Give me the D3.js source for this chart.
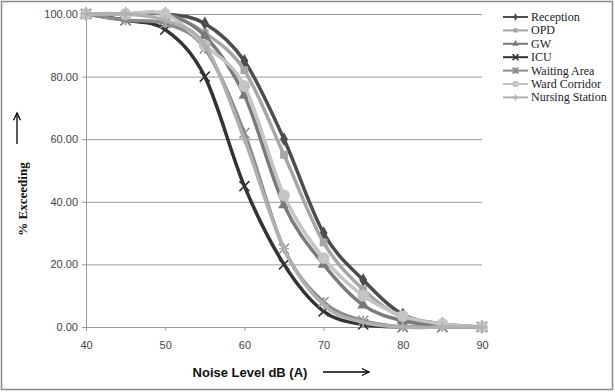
<!DOCTYPE html>
<html>
<head>
<meta charset="utf-8">
<script src="https://cdn.jsdelivr.net/npm/d3@7"></script>
<style>
  body { margin: 0; background: #fff; }
  svg { display: block; }
</style>
</head>
<body>
<div id="chart_container"></div>
<script>
// noise levels, dB (A)
var levels = [40, 45, 50, 55, 60, 65, 70, 75, 80, 85, 90];
var xTicks = [40, 50, 60, 70, 80, 90];
var yTicks = [0, 20, 40, 60, 80, 100];

// % exceeding, one array per location
var reception      = [100, 100, 100, 97, 85, 60, 30, 15, 4, 1, 0];
var opd            = [100, 100, 100, 94, 82, 55, 27, 12, 3, 1, 0];
var gw             = [100, 100, 100, 93, 74, 39, 20, 7, 2, 0.5, 0];
var icu            = [100, 98, 95, 80, 45, 20, 5, 0.8, 0, 0, 0];
var waitingArea    = [100, 98, 97, 89, 62, 25, 8, 2, 0, 0, 0];
var wardCorridor   = [100, 100, 100, 90, 77, 42, 22, 10, 3.5, 1, 0];
var nursingStation = [100, 100, 98, 90, 60, 25, 7, 1.5, 0, 0, 0];

var seriesNames = ["Reception", "OPD", "GW", "ICU", "Waiting Area", "Ward Corridor", "Nursing Station"];
var seriesValues = [reception, opd, gw, icu, waitingArea, wardCorridor, nursingStation];

// look of each series
var styles = [
    { color: "#4d4d4d", marker: "diamond" },
    { color: "#a6a6a6", marker: "square" },
    { color: "#7a7a7a", marker: "triangle" },
    { color: "#333333", marker: "x" },
    { color: "#8c8c8c", marker: "asterisk" },
    { color: "#c4c4c4", marker: "circle" },
    { color: "#b0b0b0", marker: "plus" }
];

var W = 615, H = 392;
var margin = { top: 14, left: 86 },
    width = 396,
    height = 313;

var x = d3.scaleLinear().domain([40, 90]).range([0, width]);
var y = d3.scaleLinear().domain([0, 100]).range([height, 0]);

var svg = d3.select("#chart_container").append("svg")
    .attr("width", W)
    .attr("height", H);

// outer frame
svg.append("rect")
    .attr("x", 1.5).attr("y", 1.5)
    .attr("width", W - 4).attr("height", H - 4)
    .attr("fill", "none")
    .attr("stroke", "#8a8a8a")
    .attr("stroke-width", 1.5);

var g = svg.append("g")
    .attr("transform", "translate(" + margin.left + "," + margin.top + ")");

// horizontal gridlines
g.append("g")
    .attr("class", "grid")
    .call(d3.axisLeft(y).tickValues(yTicks).tickSize(-width).tickFormat(""))
    .call(function(s) {
        s.select(".domain").remove();
        s.selectAll("line").attr("stroke", "#9a9a9a").attr("stroke-width", 1);
    });

// y axis
g.append("g")
    .call(d3.axisLeft(y).tickValues(yTicks).tickSize(4).tickSizeOuter(0).tickFormat(d3.format(".2f")))
    .call(function(s) {
        s.select(".domain").attr("stroke", "#9a9a9a");
        s.selectAll(".tick line").attr("stroke", "#9a9a9a");
        s.selectAll("text")
            .attr("font-family", "Liberation Sans, Arial, sans-serif")
            .attr("font-size", 11)
            .attr("fill", "#444")
            .attr("x", -8);
    });

// x axis
g.append("g")
    .attr("transform", "translate(0," + height + ")")
    .call(d3.axisBottom(x).tickValues(xTicks).tickSize(4).tickSizeOuter(0).tickFormat(d3.format("d")))
    .call(function(s) {
        s.select(".domain").attr("stroke", "#9a9a9a");
        s.selectAll(".tick line").attr("stroke", "#9a9a9a");
        s.selectAll("text")
            .attr("font-family", "Liberation Sans, Arial, sans-serif")
            .attr("font-size", 11)
            .attr("fill", "#444")
            .attr("y", 14);
    });

function markerPath(type, size) {
    var r = size;
    switch (type) {
        case "diamond": return d3.symbol(d3.symbolDiamond, 55)();
        case "square": return d3.symbol(d3.symbolSquare, 60)();
        case "triangle": return d3.symbol(d3.symbolTriangle, 60)();
        case "circle": return d3.symbol(d3.symbolCircle, 110)();
        case "x": return "M" + (-r) + "," + (-r) + "L" + r + "," + r + "M" + (-r) + "," + r + "L" + r + "," + (-r);
        case "plus": return "M" + (-r) + ",0L" + r + ",0M0," + (-r) + "L0," + r;
        case "asterisk": return "M" + (-r) + "," + (-r) + "L" + r + "," + r + "M" + (-r) + "," + r + "L" + r + "," + (-r) + "M0," + (-r) + "L0," + r;
    }
}

function drawMarker(sel, st, size) {
    var filled = ["diamond", "square", "triangle", "circle"].indexOf(st.marker) >= 0;
    sel.attr("d", markerPath(st.marker, size))
        .attr("fill", filled ? st.color : "none")
        .attr("stroke", st.color)
        .attr("stroke-width", filled ? 0 : 1.5);
}

var line = d3.line()
    .x(function(d) { return x(d[0]); })
    .y(function(d) { return y(d[1]); })
    .curve(d3.curveCatmullRom.alpha(0));

// series lines and markers
seriesValues.forEach(function(vals, i) {
    var pts = levels.map(function(l, j) { return [l, vals[j]]; });
    var st = styles[i];
    var sg = g.append("g");
    sg.append("path")
        .datum(pts)
        .attr("d", line)
        .attr("fill", "none")
        .attr("stroke", st.color)
        .attr("stroke-width", 3.5);
    sg.selectAll("path.mk")
        .data(pts)
        .enter().append("path")
        .attr("class", "mk")
        .attr("transform", function(d) { return "translate(" + x(d[0]) + "," + y(d[1]) + ")"; })
        .call(drawMarker, st, 5);
});

// legend
var legend = svg.append("g").attr("transform", "translate(503,17)");
seriesNames.forEach(function(name, i) {
    var row = legend.append("g").attr("transform", "translate(0," + (i * 13.4) + ")");
    row.append("line")
        .attr("x1", 0).attr("x2", 25)
        .attr("stroke", styles[i].color)
        .attr("stroke-width", 2);
    row.append("path")
        .attr("transform", "translate(12.5,0)")
        .call(function(s) {
            drawMarker(s, styles[i], 3);
            if (styles[i].marker !== "x" && styles[i].marker !== "plus" && styles[i].marker !== "asterisk")
                s.attr("transform", "translate(12.5,0) scale(0.55)");
        });
    row.append("text")
        .attr("x", 28)
        .attr("y", 4)
        .attr("font-family", "Liberation Serif, Times New Roman, serif")
        .attr("font-size", 12)
        .attr("fill", "#222")
        .text(name);
});

// axis titles
svg.append("text")
    .attr("x", 250)
    .attr("y", 377)
    .attr("text-anchor", "middle")
    .attr("font-family", "Liberation Sans, Arial, sans-serif")
    .attr("font-weight", "bold")
    .attr("font-size", 13)
    .attr("fill", "#111")
    .text("Noise Level dB (A)");

svg.append("text")
    .attr("transform", "translate(27,199) rotate(-90)")
    .attr("text-anchor", "middle")
    .attr("font-family", "Liberation Serif, Times New Roman, serif")
    .attr("font-weight", "bold")
    .attr("font-size", 13)
    .attr("fill", "#111")
    .text("% Exceeding");

// arrows beside the titles
function arrow(x1, y1, x2, y2) {
    svg.append("line")
        .attr("x1", x1).attr("y1", y1).attr("x2", x2).attr("y2", y2)
        .attr("stroke", "#000").attr("stroke-width", 1.3);
    var a = Math.atan2(y2 - y1, x2 - x1), L = 8;
    svg.append("path")
        .attr("d", "M" + (x2 - L * Math.cos(a - 0.45)) + "," + (y2 - L * Math.sin(a - 0.45)) +
            "L" + x2 + "," + y2 +
            "L" + (x2 - L * Math.cos(a + 0.45)) + "," + (y2 - L * Math.sin(a + 0.45)))
        .attr("fill", "none").attr("stroke", "#000").attr("stroke-width", 1.3);
}
arrow(323, 372, 369, 372);
arrow(17, 144, 17, 113);
</script>
</body>
</html>
